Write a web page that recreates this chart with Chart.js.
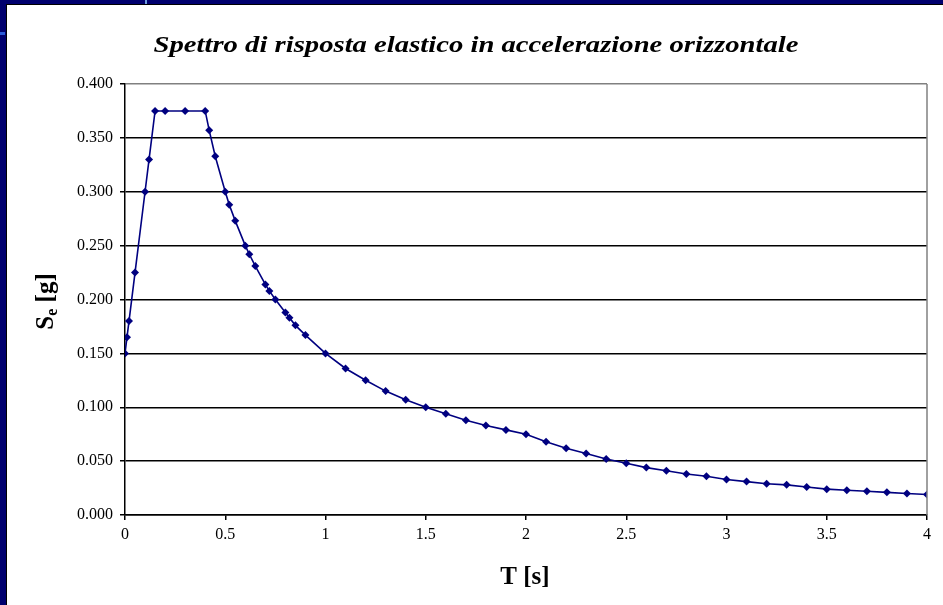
<!DOCTYPE html>
<html>
<head>
<meta charset="utf-8">
<script src="https://cdn.jsdelivr.net/npm/chart.js@4.4.0/dist/chart.umd.min.js"></script>
<style>
  html, body { margin: 0; padding: 0; width: 943px; height: 605px; overflow: hidden; background: #00006e; }
  #frame { position: absolute; left: 6px; top: 4px; width: 937px; height: 601px; background: #000; }
  #wrap { position: absolute; left: 7px; top: 5px; width: 936px; height: 600px; background: #fff; }
  #mark1 { position: absolute; left: 145px; top: 0; width: 2px; height: 4px; background: #6f9fe0; }
  #mark2 { position: absolute; left: 0; top: 32px; width: 5px; height: 3px; background: #2a5ad8; }
  canvas { display: block; }
</style>
</head>
<body>
<div id="frame"></div>
<div id="wrap"><canvas id="c" width="936" height="600"></canvas></div>
<div id="mark1"></div>
<div id="mark2"></div>
<script>
const chartTitle = "Spettro di risposta elastico in accelerazione orizzontale";
const xTitle = "T [s]";
const yTitleMain = "S";
const yTitleSub = "e";
const yTitleRest = " [g]";

const periods = [0, 0.01, 0.02, 0.05, 0.1, 0.12, 0.15, 0.2, 0.3, 0.4, 0.42, 0.45, 0.5, 0.52, 0.55,
  0.6, 0.62, 0.65, 0.7, 0.72, 0.75, 0.8, 0.82, 0.85, 0.9, 1.0,
  1.1, 1.2, 1.3, 1.4, 1.5, 1.6, 1.7, 1.8, 1.9, 2.0,
  2.1, 2.2, 2.3, 2.4, 2.5, 2.6, 2.7, 2.8, 2.9, 3.0,
  3.1, 3.2, 3.3, 3.4, 3.5, 3.6, 3.7, 3.8, 3.9, 4.0];
const seValues = [0.150, 0.165, 0.180, 0.225, 0.300, 0.330, 0.375, 0.375, 0.375, 0.375, 0.357, 0.333, 0.300, 0.288, 0.273,
  0.250, 0.242, 0.231, 0.214, 0.208, 0.200, 0.188, 0.183, 0.176, 0.167, 0.150,
  0.136, 0.125, 0.115, 0.107, 0.100, 0.094, 0.088, 0.083, 0.079, 0.075,
  0.068, 0.062, 0.057, 0.052, 0.048, 0.044, 0.041, 0.038, 0.036, 0.033,
  0.031, 0.029, 0.028, 0.026, 0.024, 0.023, 0.022, 0.021, 0.020, 0.019];

const yTickValues = [0, 0.05, 0.1, 0.15, 0.2, 0.25, 0.3, 0.35, 0.4];
const xTickValues = [0, 0.5, 1, 1.5, 2, 2.5, 3, 3.5, 4];

const serif = "'Liberation Serif', 'Times New Roman', serif";

const points = periods.map((t, i) => ({ x: t, y: seValues[i] }));

const titlesPlugin = {
  id: 'titles',
  afterDraw(chart) {
    const ctx = chart.ctx;
    const a = chart.chartArea;
    ctx.save();
    ctx.fillStyle = '#000';
    // main title, slightly stretched horizontally like the original
    ctx.font = "italic bold 24px " + serif;
    ctx.textAlign = 'center';
    ctx.textBaseline = 'alphabetic';
    const tw = ctx.measureText(chartTitle).width;
    const sx = 645 / tw;
    ctx.save();
    ctx.translate(469, 47);
    ctx.scale(sx, 1);
    ctx.fillText(chartTitle, 0, 0);
    ctx.restore();
    // x title
    ctx.font = "bold 25px " + serif;
    ctx.fillText(xTitle, (a.left + a.right) / 2 - 1, 579);
    // y title rotated with subscript
    ctx.translate(46, (a.top + a.bottom) / 2 + 2);
    ctx.rotate(-Math.PI / 2);
    ctx.textAlign = 'left';
    const fMain = "bold 25px " + serif;
    const fSub = "bold 16px " + serif;
    ctx.font = fMain;
    const w1 = ctx.measureText(yTitleMain).width;
    ctx.font = fSub;
    const w2 = ctx.measureText(yTitleSub).width;
    ctx.font = fMain;
    const w3 = ctx.measureText(yTitleRest).width;
    let x0 = -(w1 + w2 + w3) / 2;
    ctx.font = fMain;
    ctx.fillText(yTitleMain, x0, 0);
    ctx.font = fSub;
    ctx.fillText(yTitleSub, x0 + w1, 4);
    ctx.font = fMain;
    ctx.fillText(yTitleRest, x0 + w1 + w2, 0);
    ctx.restore();
    // right border (gray)
    ctx.save();
    ctx.strokeStyle = '#808080';
    ctx.lineWidth = 1.5;
    ctx.beginPath();
    ctx.moveTo(a.right, a.top);
    ctx.lineTo(a.right, a.bottom);
    ctx.stroke();
    ctx.restore();
  }
};

new Chart(document.getElementById('c'), {
  type: 'line',
  data: {
    datasets: [{
      data: points,
      borderColor: '#000080',
      backgroundColor: '#000080',
      borderWidth: 1.6,
      pointStyle: 'rectRot',
      pointRadius: 4,
      pointHoverRadius: 4,
      pointBorderWidth: 0,
      tension: 0
    }]
  },
  options: {
    responsive: false,
    animation: false,
    events: [],
    layout: { padding: { left: 0, right: 16, top: 79, bottom: 0 } },
    plugins: { legend: { display: false }, title: { display: false }, tooltip: { enabled: false } },
    scales: {
      x: {
        type: 'linear',
        min: 0, max: 4,
        afterBuildTicks(s) { s.ticks = xTickValues.map(v => ({ value: v })); },
        afterFit(s) { s.height = 90; },
        grid: {
          drawOnChartArea: false,
          tickLength: 5,
          color: '#000',
          tickColor: '#000',
          lineWidth: 1.5
        },
        border: { color: '#000', width: 1.5 },
        ticks: {
          color: '#000',
          font: { family: serif, size: 16 },
          padding: 5,
          maxRotation: 0,
          callback: v => String(v)
        }
      },
      y: {
        min: 0, max: 0.4,
        afterBuildTicks(s) { s.ticks = yTickValues.map(v => ({ value: v })); },
        afterFit(s) { s.width = 118; },
        grid: {
          tickLength: 5,
          lineWidth: 1.5,
          color: c => (c.tick && Math.abs(c.tick.value - 0.4) < 1e-9) ? '#808080' : '#000',
          tickColor: '#000'
        },
        border: { color: '#000', width: 1.5 },
        ticks: {
          color: '#000',
          font: { family: serif, size: 16 },
          padding: 7,
          callback: v => Number(v).toFixed(3)
        }
      }
    }
  },
  plugins: [titlesPlugin]
});
</script>
</body>
</html>
